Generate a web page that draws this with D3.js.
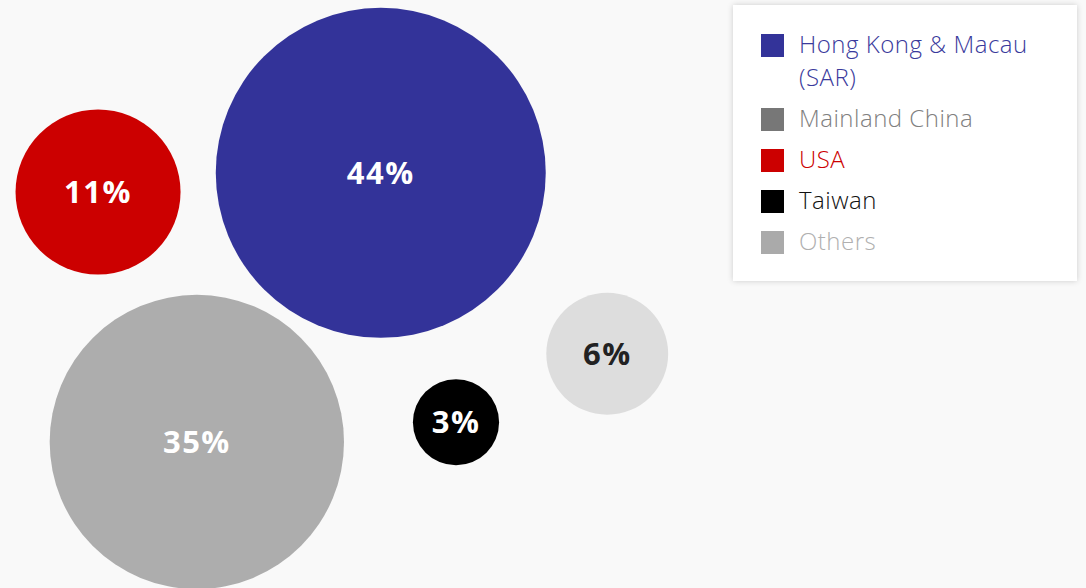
<!DOCTYPE html>
<html>
<head>
<meta charset="utf-8">
<script src="https://cdn.jsdelivr.net/npm/d3@7"></script>
<style>
    html, body {
        margin: 0;
        padding: 0;
        background: #f9f9f9;
        overflow: hidden;
    }
    .legendbox {
        position: absolute;
        left: 733px;
        top: 5px;
        width: 344px;
        height: 276px;
        background: #fff;
        box-shadow: 0 0 6px rgba(0, 0, 0, 0.18);
    }
    text {
        font-family: "Open Sans", "DejaVu Sans", sans-serif;
    }
</style>
</head>
<body>
<div class="legendbox"></div>
<svg id="chart" width="1086" height="588" style="position:absolute;left:0;top:0"></svg>
<script>
// data
var regions = ["Hong Kong & Macau (SAR)", "Mainland China", "USA", "Taiwan", "Others"];
var shares = [44, 35, 11, 3, 6];
var swatchColors = ["#333399", "#777777", "#cc0000", "#000000", "#aaaaaa"];
var bubbleColors = ["#333399", "#adadad", "#cc0000", "#000000", "#dddddd"];
var labelColors = ["#ffffff", "#ffffff", "#ffffff", "#ffffff", "#222222"];
var legendTextColors = ["#3a3a9c", "#808080", "#cc0000", "#111111", "#b0b0b0"];

// layout anchors in a unit square, kept apart from the data
var anchorX = [0.501, 0.259, 0.129, 0.6, 0.799];
var anchorY = [0.298, 0.762, 0.331, 0.728, 0.61];

var svg = d3.select("#chart");

var x = d3.scaleLinear().domain([0, 1]).range([0, 760]);
var y = d3.scaleLinear().domain([0, 1]).range([0, 580]);
var r = d3.scaleSqrt().domain([0, 44]).range([0, 165]);

var nodes = regions.map(function (d, i) {
    return {name: d, value: shares[i], i: i};
});

var bubble = svg.selectAll("g.bubble").data(nodes).enter()
        .append("g").classed("bubble", true)
        .attr("transform", function (d) {
            return "translate(" + x(anchorX[d.i]) + "," + y(anchorY[d.i]) + ")";
        });

bubble.append("circle")
        .attr("r", function (d) { return r(d.value); })
        .attr("fill", function (d) { return bubbleColors[d.i]; });

bubble.append("text")
        .attr("text-anchor", "middle")
        .attr("dy", "0.36em")
        .attr("font-size", 31)
        .attr("font-weight", "bold")
        .attr("letter-spacing", 1.5)
        .attr("fill", function (d) { return labelColors[d.i]; })
        .text(function (d) { return d.value + "%"; });

// legend
var legend = svg.append("g").attr("transform", "translate(761,34)");
var rowY = 0;
nodes.forEach(function (d) {
    var item = legend.append("g").attr("transform", "translate(0," + rowY + ")");
    item.append("rect")
            .attr("width", 23)
            .attr("height", 23)
            .attr("fill", swatchColors[d.i]);
    var lines = d.name === "Hong Kong & Macau (SAR)" ? ["Hong Kong & Macau", "(SAR)"] : [d.name];
    var t = item.append("text")
            .attr("x", 38)
            .attr("y", 19)
            .attr("font-size", 24)
            .attr("font-weight", 300)
            .attr("letter-spacing", 0.5)
            .attr("fill", legendTextColors[d.i]);
    lines.forEach(function (l, k) {
        t.append("tspan").attr("x", 38).attr("dy", k === 0 ? 0 : 33).text(l);
    });
    rowY += 41 + (lines.length - 1) * 33;
});
</script>
</body>
</html>
